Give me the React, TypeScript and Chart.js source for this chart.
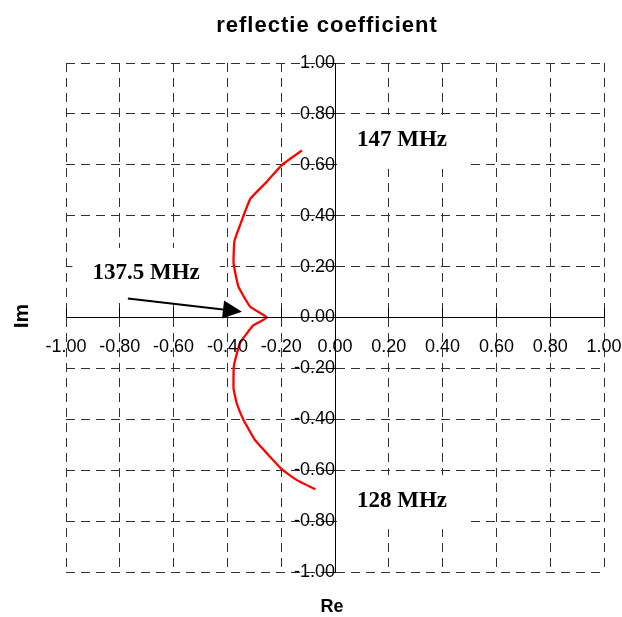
import React, { useEffect, useRef } from 'react';
import { Chart, registerables } from 'chart.js';

Chart.register(...registerables);

// Reflection coefficient locus, from 128 MHz (bottom) through 137.5 MHz (cusp) to 147 MHz (top)
const reValues = [
  -0.073, -0.142, -0.197, -0.253, -0.297, -0.34, -0.365, -0.377, -0.376, -0.353, -0.303,
  -0.253,
  -0.315, -0.359, -0.377, -0.374, -0.355, -0.315, -0.253, -0.197, -0.123,
];
const imValues = [
  -0.675, -0.639, -0.597, -0.534, -0.482, -0.403, -0.338, -0.28, -0.19, -0.1, -0.03,
  0.0,
  0.042, 0.121, 0.213, 0.3, 0.357, 0.466, 0.534, 0.6, 0.656,
];

// Frequency annotations (cap-height centre, in Re/Im units)
const noteLabels = ['147 MHz', '137.5 MHz', '128 MHz'];
const noteRe = [0.249, -0.702, 0.249];
const noteIm = [0.702, 0.179, -0.714];

// Arrow pointing at the 137.5 MHz cusp
const arrowStart = [-0.77, 0.075];
const arrowEnd = [-0.346, 0.023];

const axisMin = -1;
const axisMax = 1;
const axisStep = 0.2;

const titleText = 'reflectie coefficient';
const xTitle = 'Re';
const yTitle = 'Im';

const fmtTick = (v: number | string) => {
  const n = Number(v);
  return (Math.abs(n) < 1e-9 ? 0 : n).toFixed(2);
};

const tickFont = { family: '"Liberation Sans", Arial, sans-serif', size: 18 };

const overlay = {
  id: 'overlay',
  beforeDatasetsDraw(chart: any) {
    const { ctx, scales } = chart;
    ctx.save();
    ctx.font = 'bold 23px "Liberation Serif", "Times New Roman", serif';
    ctx.fillStyle = '#ffffff';
    noteLabels.forEach((t, i) => {
      const cx = scales.x.getPixelForValue(noteRe[i]);
      const cy = scales.y.getPixelForValue(noteIm[i]);
      const w = ctx.measureText(t).width;
      ctx.fillRect(cx - w / 2 - 20, cy - 24, w + 40, 54);
    });
    ctx.restore();
  },
  afterDatasetsDraw(chart: any) {
    const { ctx, scales } = chart;
    ctx.save();
    // annotation texts
    ctx.font = 'bold 23px "Liberation Serif", "Times New Roman", serif';
    ctx.fillStyle = '#000';
    ctx.textAlign = 'center';
    ctx.textBaseline = 'alphabetic';
    noteLabels.forEach((t, i) => {
      const cx = scales.x.getPixelForValue(noteRe[i]);
      const cy = scales.y.getPixelForValue(noteIm[i]);
      ctx.fillText(t, cx, cy + 7.5);
    });
    // arrow
    const x1 = scales.x.getPixelForValue(arrowStart[0]);
    const y1 = scales.y.getPixelForValue(arrowStart[1]);
    const x2 = scales.x.getPixelForValue(arrowEnd[0]);
    const y2 = scales.y.getPixelForValue(arrowEnd[1]);
    const ang = Math.atan2(y2 - y1, x2 - x1);
    const headLen = 19;
    const headHalf = 9;
    const bx = x2 - headLen * Math.cos(ang);
    const by = y2 - headLen * Math.sin(ang);
    ctx.strokeStyle = '#000';
    ctx.lineWidth = 2;
    ctx.beginPath();
    ctx.moveTo(x1, y1);
    ctx.lineTo(bx, by);
    ctx.stroke();
    ctx.beginPath();
    ctx.moveTo(x2, y2);
    ctx.lineTo(bx + headHalf * Math.sin(ang), by - headHalf * Math.cos(ang));
    ctx.lineTo(bx - headHalf * Math.sin(ang), by + headHalf * Math.cos(ang));
    ctx.closePath();
    ctx.fill();
    ctx.restore();
  },
  afterDraw(chart: any) {
    const { ctx } = chart;
    ctx.save();
    ctx.fillStyle = '#000';
    ctx.textAlign = 'center';
    ctx.textBaseline = 'alphabetic';
    ctx.font = 'bold 22px "Liberation Sans", Arial, sans-serif';
    ctx.letterSpacing = '1px';
    ctx.fillText(titleText, 327, 32);
    ctx.letterSpacing = '0px';
    ctx.font = 'bold 18px "Liberation Sans", Arial, sans-serif';
    ctx.fillText(xTitle, 332, 611.5);
    ctx.translate(28, 316);
    ctx.rotate(-Math.PI / 2);
    ctx.font = 'bold 21px "Liberation Sans", Arial, sans-serif';
    ctx.fillText(yTitle, 0, 0);
    ctx.restore();
  },
};

// Axes sit on the chart area at the origin, so they reserve no layout space
const noSpace = (s: any) => {
  if (s.isHorizontal()) s.height = 0;
  else s.width = 0;
  s.paddingLeft = 0;
  s.paddingRight = 0;
  s.paddingTop = 0;
  s.paddingBottom = 0;
};

export default function App() {
  const canvasRef = useRef<HTMLCanvasElement | null>(null);

  useEffect(() => {
    if (!canvasRef.current) return;
    const points = reValues.map((re, i) => ({ x: re, y: imValues[i] }));
    const chart = new Chart(canvasRef.current, {
      type: 'scatter',
      data: {
        datasets: [
          {
            data: points,
            showLine: true,
            borderColor: '#ff0000',
            backgroundColor: '#ff0000',
            borderWidth: 2.3,
            pointRadius: 0,
            tension: 0.12,
          },
        ],
      },
      options: {
        responsive: false,
        animation: false,
        layout: { padding: { left: 66, top: 63, right: 18, bottom: 45 } },
        plugins: {
          legend: { display: false },
          title: { display: false },
          tooltip: { enabled: false },
        },
        scales: {
          x: {
            type: 'linear',
            min: axisMin,
            max: axisMax,
            position: { y: 0 } as any,
            afterFit: noSpace,
            ticks: {
              stepSize: axisStep,
              callback: fmtTick,
              font: tickFont,
              color: '#000',
              padding: 29,
              autoSkip: false,
              maxRotation: 0,
              z: 1,
            },
            grid: {
              color: '#303030',
              lineWidth: 1,
              drawTicks: true,
              tickLength: -10,
              tickColor: '#000',
              tickWidth: 1,
            },
            border: { display: true, color: '#000', width: 1, dash: [9, 6], z: 1 },
          },
          y: {
            type: 'linear',
            min: axisMin,
            max: axisMax,
            position: { x: 0 } as any,
            afterFit: noSpace,
            ticks: {
              stepSize: axisStep,
              callback: fmtTick,
              font: tickFont,
              color: '#000',
              padding: 10,
              autoSkip: false,
              z: 1,
            },
            grid: {
              color: '#303030',
              lineWidth: 1,
              drawTicks: true,
              tickLength: 7,
              tickColor: '#000',
              tickWidth: 1,
            },
            border: { display: true, color: '#000', width: 1, dash: [9, 6], z: 1 },
          },
        },
      },
      plugins: [overlay],
    });
    return () => chart.destroy();
  }, []);

  return (
    <div style={{ position: 'absolute', left: 0, top: 0, width: 622, height: 617, background: '#fff' }}>
      <canvas ref={canvasRef} width={622} height={617} style={{ display: 'block' }} />
    </div>
  );
}
